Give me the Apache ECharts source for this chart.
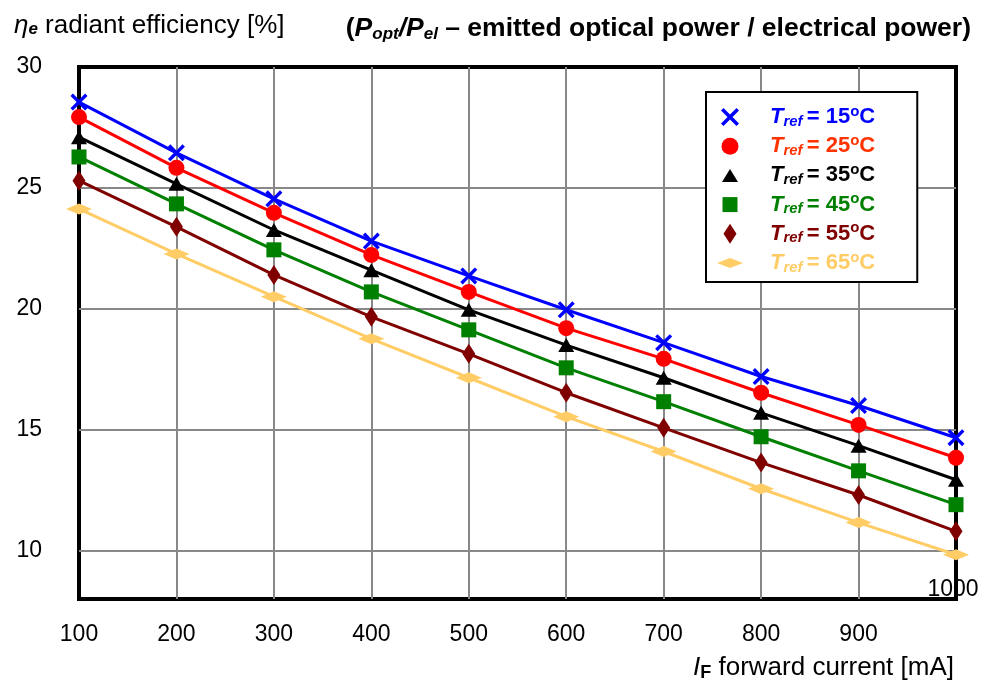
<!DOCTYPE html>
<html>
<head>
<meta charset="utf-8">
<script src="https://cdn.jsdelivr.net/npm/echarts@6/dist/echarts.min.js"></script>
<style>html,body{margin:0;padding:0;background:#fff}#c{width:981px;height:680px}</style>
</head>
<body>
<div id="c"></div>
<script>
// ---- data ----
const currents = [100, 200, 300, 400, 500, 600, 700, 800, 900, 1000];
const refTemps = [15, 25, 35, 45, 55, 65];
const eff15 = [28.55, 26.45, 24.55, 22.8, 21.36, 19.96, 18.6, 17.2, 16.0, 14.67];
const eff25 = [27.93, 25.83, 23.97, 22.23, 20.7, 19.2, 17.93, 16.53, 15.2, 13.84];
const eff35 = [27.1, 25.17, 23.26, 21.6, 19.96, 18.5, 17.15, 15.7, 14.34, 12.93];
const eff45 = [26.28, 24.34, 22.44, 20.7, 19.13, 17.56, 16.16, 14.71, 13.3, 11.9];
const eff55 = [25.3, 23.39, 21.4, 19.67, 18.14, 16.53, 15.08, 13.64, 12.3, 10.8];
const eff65 = [24.13, 22.27, 20.5, 18.76, 17.15, 15.54, 14.1, 12.56, 11.16, 9.83];
const xTickLabels = [100, 200, 300, 400, 500, 600, 700, 800, 900];
const xGridValues = [200, 300, 400, 500, 600, 700, 800, 900];
const yTickLabels = [10, 15, 20, 25, 30];
const yGridValues = [10, 15, 20, 25];
const lastXLabel = 1000;

// ---- styles ----
const FONT = "'Liberation Sans', Arial, Helvetica, sans-serif";
const seriesData = [eff15, eff25, eff35, eff45, eff55, eff65];
const lineColors = ['#0000FF', '#FF0000', '#000000', '#008000', '#800000', '#FFCC66'];
const textColors = ['#0000FF', '#FF3300', '#000000', '#008000', '#800000', '#FFCC66'];
const xPath = 'path://M0,2.8L2.8,0L10,7.2L17.2,0L20,2.8L12.8,10L20,17.2L17.2,20L10,12.8L2.8,20L0,17.2L7.2,10Z';
const symbols = [xPath, 'circle', 'triangle', 'rect', 'diamond', 'diamond'];
const symbolSizes = [17, 16, [16, 14], 15, [13, 20], [26, 11]];
const frame = 'M0,0M40,20';
const legendIcons = [
  'path://' + frame + 'M11,3.5L13.5,1L20,7.5L26.5,1L29,3.5L22.5,10L29,16.5L26.5,19L20,12.5L13.5,19L11,16.5L17.5,10Z',
  'path://' + frame + 'M11.5,10A8.5,8.5,0,1,1,28.5,10A8.5,8.5,0,1,1,11.5,10Z',
  'path://' + frame + 'M12,16.5L20,3.5L28,16.5Z',
  'path://' + frame + 'M12.5,2.5L27.5,2.5L27.5,17.5L12.5,17.5Z',
  'path://' + frame + 'M20,0L26.5,10L20,20L13.5,10Z',
  'path://' + frame + 'M7,10L20,5L33,10L20,15Z'
];
const seriesNames = refTemps.map(t => 'Tref = ' + t + '°C');

const legendRich = {};
textColors.forEach((c, i) => {
  legendRich['t' + i] = { color: c, fontSize: 22, fontWeight: 'bold', fontStyle: 'italic', fontFamily: FONT, lineHeight: 20 };
  legendRich['s' + i] = { color: c, fontSize: 15, fontWeight: 'bold', fontStyle: 'italic', fontFamily: FONT, lineHeight: 20, padding: [9, 0, 0, 0] };
  legendRich['v' + i] = { color: c, fontSize: 22, fontWeight: 'bold', fontFamily: FONT, lineHeight: 20 };
  legendRich['u' + i] = { color: c, fontSize: 15, fontWeight: 'bold', fontFamily: FONT, lineHeight: 20, padding: [0, 0, 11, 0] };
});

const chart = echarts.init(document.getElementById('c'), null, { renderer: 'canvas' });

const option = {
  backgroundColor: '#fff',
  animation: false,
  textStyle: { fontFamily: FONT },
  title: [
    {
      left: 9, top: 6,
      text: '{eta|η}{sub|e}{txt| radiant efficiency [%]}',
      textStyle: {
        fontWeight: 'normal',
        rich: {
          eta: { fontSize: 26, fontStyle: 'italic', fontWeight: 'normal', color: '#000', fontFamily: FONT, lineHeight: 30 },
          sub: { fontSize: 17, fontStyle: 'italic', fontWeight: 'bold', color: '#000', fontFamily: FONT, lineHeight: 30, padding: [7, 0, 0, 0] },
          txt: { fontSize: 26, fontWeight: 'normal', color: '#000', fontFamily: FONT, lineHeight: 30 }
        }
      }
    },
    {
      right: 5, top: 9,
      text: '{b|(}{bi|P}{sub|opt}{bi|/P}{sub|el}{b| – emitted optical power / electrical power)}',
      textStyle: {
        rich: {
          b: { fontSize: 26.5, fontWeight: 'bold', color: '#000', fontFamily: FONT, lineHeight: 30 },
          bi: { fontSize: 26.5, fontWeight: 'bold', fontStyle: 'italic', color: '#000', fontFamily: FONT, lineHeight: 30 },
          sub: { fontSize: 17, fontWeight: 'bold', fontStyle: 'italic', color: '#000', fontFamily: FONT, lineHeight: 30, padding: [10, 0, 0, 0] }
        }
      }
    }
  ],
  grid: {
    left: 79, right: 25, top: 67, bottom: 81,
    outerBoundsMode: 'none',
    show: true, borderColor: '#000', borderWidth: 4, backgroundColor: 'transparent'
  },
  legend: {
    orient: 'vertical', left: 706, top: 92,
    padding: [12, 42, 6, 4],
    itemWidth: 40, itemHeight: 20, itemGap: 3.2,
    backgroundColor: '#fff', borderColor: '#000', borderWidth: 2,
    data: seriesNames.map((n, i) => ({ name: n, icon: legendIcons[i] })),
    formatter: function (name) {
      const i = seriesNames.indexOf(name);
      return '{t' + i + '|T}{s' + i + '|ref }{v' + i + '|= ' + refTemps[i] + '}{u' + i + '|o}{v' + i + '|C}';
    },
    textStyle: { padding: [0, 0, 0, 15], rich: legendRich }
  },
  xAxis: {
    type: 'value', min: 100, max: 1000, interval: 100,
    name: '{i|I}{f|F}{n| forward current [mA]}',
    nameLocation: 'end', nameGap: -2,
    nameTextStyle: {
      align: 'right', verticalAlign: 'top', padding: [54, 0, 0, 0],
      rich: {
        i: { fontSize: 26, fontStyle: 'italic', color: '#000', fontFamily: FONT, lineHeight: 30 },
        f: { fontSize: 18, fontWeight: 'bold', color: '#000', fontFamily: FONT, lineHeight: 30, padding: [11, 0, 0, 0] },
        n: { fontSize: 26, color: '#000', fontFamily: FONT, lineHeight: 30 }
      }
    },
    axisLine: { show: false },
    axisTick: { show: false, customValues: xGridValues },
    axisLabel: { customValues: xTickLabels, fontSize: 23, color: '#000', margin: 24, fontFamily: FONT },
    splitLine: { show: true, lineStyle: { color: '#888', width: 2 } }
  },
  yAxis: {
    type: 'value', min: 8, max: 30,
    axisLine: { show: false },
    axisTick: { show: false, customValues: yGridValues },
    axisLabel: { customValues: yTickLabels, fontSize: 23, color: '#000', margin: 37, fontFamily: FONT },
    splitLine: { show: true, lineStyle: { color: '#888', width: 2 } }
  },
  series: seriesData.map((d, i) => ({
    name: seriesNames[i],
    type: 'line',
    data: currents.map((x, k) => [x, d[k]]),
    symbol: symbols[i],
    symbolSize: symbolSizes[i],
    showAllSymbol: true,
    lineStyle: { color: lineColors[i], width: 3 },
    itemStyle: { color: lineColors[i] },
    z: 10 - i
  }))
};

chart.setOption(option);
const p = chart.convertToPixel({ gridIndex: 0 }, [lastXLabel, 8]);
chart.setOption({
  graphic: [{
    type: 'text', z: -1,
    x: p[0] - 3, y: p[1] + 2,
    style: { text: String(lastXLabel), font: '23px ' + FONT, fill: '#000', align: 'center', verticalAlign: 'bottom' }
  }]
});
</script>
</body>
</html>
